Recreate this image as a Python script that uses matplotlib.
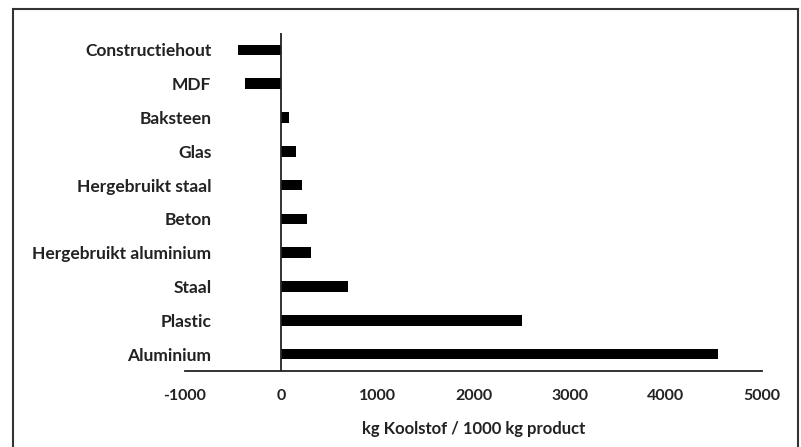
import numpy as np
import matplotlib
matplotlib.use("Agg")
import matplotlib.pyplot as plt
from matplotlib.lines import Line2D

# data (top to bottom as shown)
materials = ["Constructiehout", "MDF", "Baksteen", "Glas", "Hergebruikt staal",
             "Beton", "Hergebruikt aluminium", "Staal", "Plastic", "Aluminium"]
carbon = [-450, -380, 80, 150, 215, 265, 310, 690, 2500, 4540]
xticks = [-1000, 0, 1000, 2000, 3000, 4000, 5000]

plt.rcParams['font.family'] = ['Lato', 'DejaVu Sans']

W, H = 801, 447
fig = plt.figure(figsize=(W / 100, H / 100), dpi=100)
ax = fig.add_axes([185 / W, 1 - 371 / H, (762 - 185) / W, (371 - 33) / H])

y = np.arange(len(materials))
ax.barh(y, carbon, height=0.31, color='black')
ax.set_ylim(len(materials) - 0.5, -0.5)
ax.set_xlim(-1000, 5000)

ax.axvline(0, color='#222222', lw=1.3)
for s in ['top', 'right', 'left']:
    ax.spines[s].set_visible(False)
ax.spines['bottom'].set_color('#222222')
ax.spines['bottom'].set_linewidth(1.3)

ax.set_yticks(y)
ax.set_yticklabels(materials, fontsize=12.5, fontweight='bold', color='#222222')
ax.set_xticks(xticks)
ax.set_xticklabels([str(v) for v in xticks], fontsize=11.5, fontweight='bold', color='#222222')
ax.tick_params(axis='y', length=0, pad=-19)
ax.tick_params(axis='x', length=0, pad=13)

ax.set_xlabel('kg Koolstof / 1000 kg product', fontsize=12, fontweight='bold',
              color='#222222', labelpad=13)

# outer frame (bottom edge cut off)
fx = lambda px: px / W
fy = lambda py: 1 - py / H
frame_kw = dict(color='#333333', lw=1.5, transform=fig.transFigure)
fig.add_artist(Line2D([fx(13), fx(13)], [fy(9), fy(450)], **frame_kw))
fig.add_artist(Line2D([fx(13), fx(798)], [fy(9), fy(9)], **frame_kw))
fig.add_artist(Line2D([fx(798), fx(798)], [fy(9), fy(450)], **frame_kw))

fig.savefig('out.png', dpi=100)
